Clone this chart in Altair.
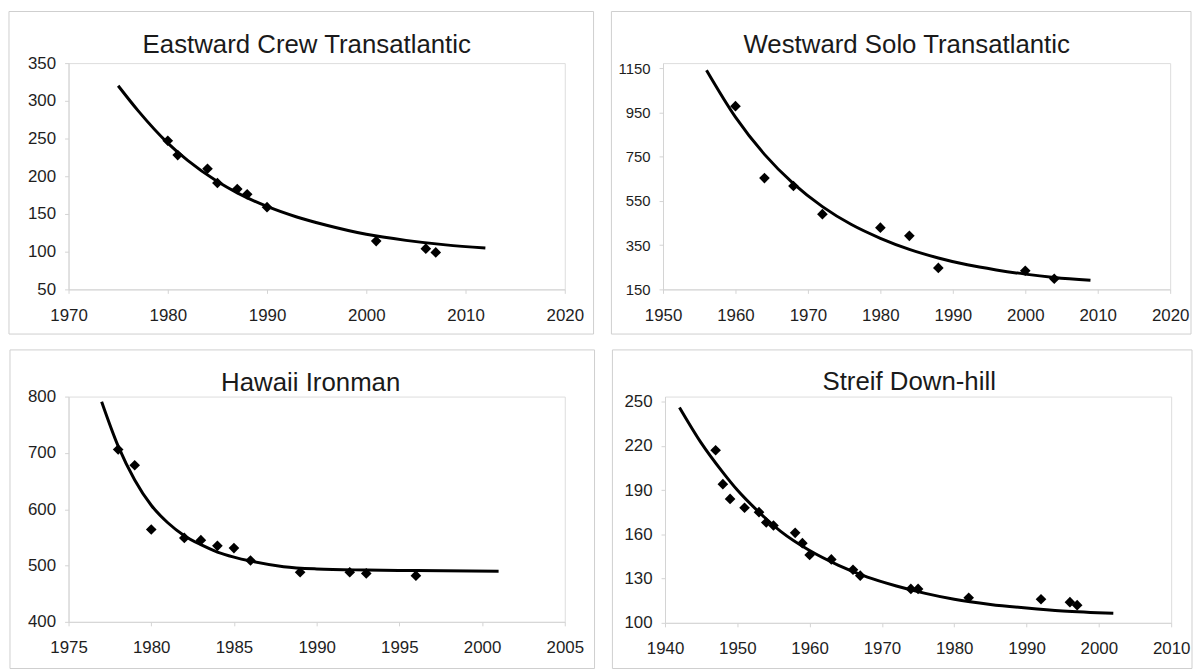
import altair as alt
import pandas as pd

# ---------------- data ----------------
TITLES = ["Eastward Crew Transatlantic", "Westward Solo Transatlantic",
          "Hawaii Ironman", "Streif Down-hill"]

EAST_PT_YEARS = [1980, 1981, 1984, 1985, 1987, 1988, 1990, 2001, 2006, 2007]
EAST_PT_VALUES = [247, 228, 210, 191, 183, 176, 159, 114, 104, 99]
EAST_FIT_YEARS = [1975, 1977, 1980, 1982, 1985, 1987, 1990, 1993, 1996, 2000, 2004, 2008, 2012]
EAST_FIT_VALUES = [320, 287, 244, 221, 193, 178, 160, 146, 135, 123, 115, 109, 105]
EAST_X_TICKS = [1970, 1980, 1990, 2000, 2010, 2020]
EAST_Y_TICKS = [50, 100, 150, 200, 250, 300, 350]

WEST_PT_YEARS = [1960, 1964, 1968, 1972, 1980, 1984, 1988, 2000, 2004]
WEST_PT_VALUES = [978, 653, 617, 490, 429, 392, 247, 234, 198]
WEST_FIT_YEARS = [1956, 1960, 1964, 1968, 1972, 1976, 1980, 1984, 1988, 1992, 1996, 2000, 2004, 2009]
WEST_FIT_VALUES = [1140, 928, 760, 628, 524, 443, 381, 331, 292, 261, 238, 219, 204, 191]
WEST_X_TICKS = [1950, 1960, 1970, 1980, 1990, 2000, 2010, 2020]
WEST_Y_TICKS = [150, 350, 550, 750, 950, 1150]

HAWAII_PT_YEARS = [1978, 1979, 1980, 1982, 1983, 1984, 1985, 1986, 1989, 1992, 1993, 1996]
HAWAII_PT_VALUES = [706, 678, 564, 549, 545, 535, 531, 509, 488, 488, 486, 482]
HAWAII_FIT_YEARS = [1977, 1978, 1979, 1980, 1981, 1982, 1983, 1984, 1985, 1986, 1988, 1990, 1993, 1996, 2001]
HAWAII_FIT_VALUES = [791, 712, 652, 607, 576, 553, 537, 524, 515, 508, 498, 494, 492, 491, 490]
HAWAII_X_TICKS = [1975, 1980, 1985, 1990, 1995, 2000, 2005]
HAWAII_Y_TICKS = [400, 500, 600, 700, 800]

STREIF_PT_YEARS = [1947, 1948, 1949, 1951, 1953, 1954, 1955, 1958, 1959, 1960,
                   1963, 1966, 1967, 1974, 1975, 1982, 1992, 1996, 1997]
STREIF_PT_VALUES = [217, 194, 184, 178, 175, 168, 166, 161, 154, 146,
                    143, 136, 132, 123, 123, 117, 116, 114, 112]
STREIF_FIT_YEARS = [1942, 1945, 1948, 1950, 1953, 1956, 1960, 1964, 1968, 1972,
                    1976, 1980, 1985, 1990, 1995, 2002]
STREIF_FIT_VALUES = [246, 222, 202, 190, 175, 162, 149, 139, 131, 125,
                     120, 116, 112.5, 110, 108, 106.5]
STREIF_X_TICKS = [1940, 1950, 1960, 1970, 1980, 1990, 2000, 2010]
STREIF_Y_TICKS = [100, 130, 160, 190, 220, 250]

FONT = "Liberation Sans"
AXIS_GRAY = "#d4d4d4"
TEXT = "#1e1e1e"


def panel(title, pty, ptv, fity, fitv, xt, yt, W, H, L, R, T, B,
          tdx, tdy, ysize=17, top_gap=0):
    pts = pd.DataFrame({"year": pty, "value": ptv})
    fit = pd.DataFrame({"year": fity, "value": fitv})
    # top_gap: pixels of empty band above the highest y tick
    ymax = yt[-1] + top_gap * (yt[-1] - yt[0]) / (H - top_gap)
    xs = alt.Scale(domain=[xt[0], xt[-1]], nice=False, zero=False)
    ys = alt.Scale(domain=[yt[0], ymax], nice=False, zero=False)
    xa = alt.Axis(values=xt, format="d", grid=False, title=None,
                  domainColor=AXIS_GRAY, tickColor=AXIS_GRAY, tickSize=4,
                  labelFont=FONT, labelFontSize=17, labelColor=TEXT,
                  labelPadding=14, labelFlush=False, labelOverlap=False)
    ya = alt.Axis(values=yt, format="d", grid=False, title=None,
                  domainColor=AXIS_GRAY, tickColor=AXIS_GRAY, tickSize=4,
                  labelFont=FONT, labelFontSize=ysize, labelColor=TEXT,
                  labelPadding=9, labelOverlap=False)

    frame = alt.Chart(pd.DataFrame({"f": [0]})).mark_rect(
        filled=False, color="#cfcfcf", strokeWidth=1
    ).encode(x=alt.value(-L), x2=alt.value(W + R),
             y=alt.value(-T), y2=alt.value(H + B))

    line = alt.Chart(fit).mark_line(
        color="black", strokeWidth=3, interpolate="monotone"
    ).encode(x=alt.X("year:Q", scale=xs, axis=xa),
             y=alt.Y("value:Q", scale=ys, axis=ya))

    dots = alt.Chart(pts).mark_point(
        shape="diamond", filled=True, size=115, color="black", opacity=1
    ).encode(x=alt.X("year:Q", scale=xs, axis=xa),
             y=alt.Y("value:Q", scale=ys, axis=ya))

    ttl = alt.Chart(pd.DataFrame({"t": [title]})).mark_text(
        font=FONT, fontSize=26, color="#1a1a1a", align="center",
        baseline="alphabetic"
    ).encode(x=alt.value(W / 2 + tdx), y=alt.value(-tdy), text="t:N")

    return alt.layer(frame, line, dots, ttl).properties(width=W, height=H)


p1 = panel(TITLES[0], EAST_PT_YEARS, EAST_PT_VALUES, EAST_FIT_YEARS, EAST_FIT_VALUES,
           EAST_X_TICKS, EAST_Y_TICKS, 500, 228, 60, 29, 52, 45, -10, 10)
p2 = panel(TITLES[1], WEST_PT_YEARS, WEST_PT_VALUES, WEST_FIT_YEARS, WEST_FIT_VALUES,
           WEST_X_TICKS, WEST_Y_TICKS, 511, 228, 52, 21, 52, 45, -10, 10,
           ysize=15, top_gap=5)
p3 = panel(TITLES[2], HAWAII_PT_YEARS, HAWAII_PT_VALUES, HAWAII_FIT_YEARS, HAWAII_FIT_VALUES,
           HAWAII_X_TICKS, HAWAII_Y_TICKS, 500, 227, 59, 30, 47, 47, -6, 6)
p4 = panel(TITLES[3], STREIF_PT_YEARS, STREIF_PT_VALUES, STREIF_FIT_YEARS, STREIF_FIT_VALUES,
           STREIF_X_TICKS, STREIF_Y_TICKS, 510, 228, 53, 21, 47, 46, -9, 7, top_gap=5)

chart = alt.vconcat(
    alt.hconcat(p1, p2, spacing=16),
    alt.hconcat(p3, p4, spacing=16),
    spacing=14,
    padding=0,
).configure_view(strokeWidth=0).configure(background="white")

chart.save("out.html", embed_options={"renderer": "svg", "actions": False})
